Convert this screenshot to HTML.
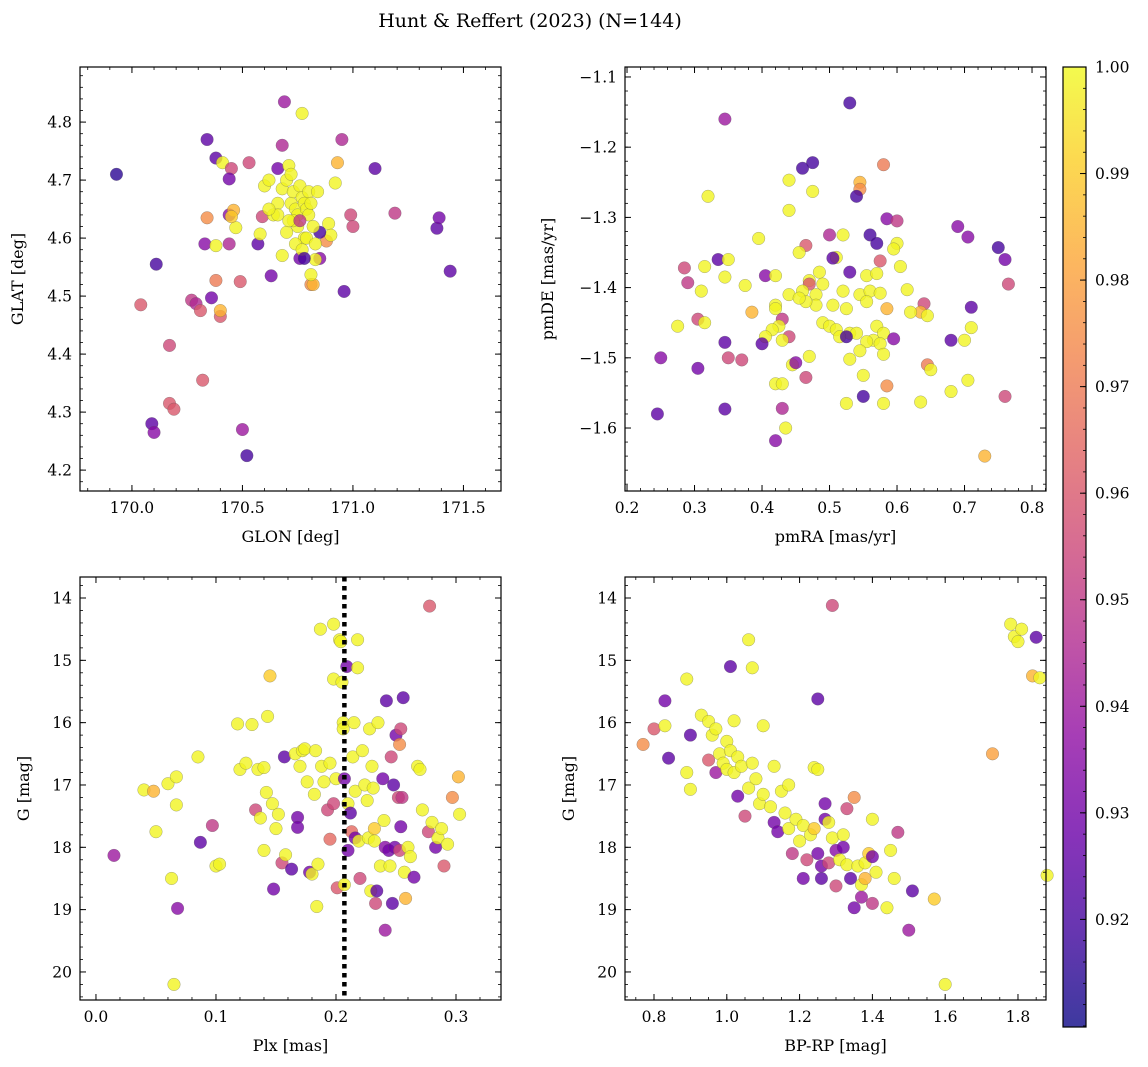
<!DOCTYPE html>
<html><head><meta charset="utf-8">
<style>
body{margin:0;background:#fff;}
svg{display:block;font-family:"DejaVu Serif","Liberation Serif",serif;}
</style></head>
<body>
<svg id="fig" width="1148" height="1067" viewBox="0 0 1148 1067" xmlns="http://www.w3.org/2000/svg">
<text x="530" y="27" text-anchor="middle" font-size="19">Hunt &amp; Reffert (2023) (N=144)</text>
</svg>
<script>
// ---- data (value triplets: x, y, membership probability) ----
const glonGlat = [[169.93,4.71,0.915],[170.11,4.555,0.92],[170.04,4.485,0.96],[170.17,4.415,0.955],[170.17,4.315,0.96],[170.19,4.305,0.96],[170.09,4.28,0.925],[170.1,4.265,0.935],[170.32,4.355,0.96],[170.27,4.493,0.95],[170.29,4.487,0.945],[170.31,4.475,0.96],[170.4,4.465,0.96],[170.4,4.475,0.985],[170.38,4.527,0.97],[170.49,4.525,0.96],[170.5,4.27,0.94],[170.52,4.225,0.92],[170.34,4.77,0.925],[170.38,4.738,0.925],[170.41,4.73,0.999],[170.45,4.72,0.955],[170.44,4.702,0.93],[170.53,4.73,0.955],[170.34,4.635,0.975],[170.33,4.59,0.935],[170.36,4.497,0.93],[170.38,4.587,0.999],[170.44,4.64,0.935],[170.44,4.59,0.945],[170.46,4.648,0.985],[170.47,4.618,0.999],[170.45,4.637,0.99],[170.57,4.59,0.925],[170.58,4.607,0.999],[170.59,4.637,0.955],[170.63,4.535,0.93],[170.66,4.72,0.93],[170.68,4.76,0.945],[170.69,4.835,0.94],[170.77,4.815,0.999],[170.95,4.77,0.945],[171.1,4.72,0.925],[170.96,4.508,0.925],[170.99,4.64,0.955],[171.0,4.62,0.955],[171.19,4.643,0.95],[171.38,4.617,0.925],[171.39,4.635,0.93],[171.44,4.543,0.925],[170.93,4.73,0.985],[170.92,4.695,0.999],[170.81,4.52,0.975],[170.82,4.52,0.985],[170.85,4.565,0.935],[170.83,4.563,0.999],[170.88,4.595,0.975],[170.89,4.625,0.999],[170.9,4.605,0.999],[170.85,4.61,0.92],[170.81,4.537,0.999],[170.76,4.565,0.93],[170.6,4.69,0.999],[170.62,4.70,0.999],[170.64,4.64,0.999],[170.66,4.66,0.999],[170.68,4.685,0.999],[170.7,4.7,0.999],[170.71,4.725,0.999],[170.72,4.71,0.999],[170.72,4.66,0.999],[170.73,4.68,0.999],[170.74,4.65,0.999],[170.75,4.64,0.999],[170.75,4.62,0.999],[170.76,4.69,0.999],[170.77,4.67,0.999],[170.78,4.66,0.999],[170.79,4.65,0.999],[170.8,4.68,0.999],[170.8,4.64,0.999],[170.81,4.66,0.999],[170.82,4.62,0.999],[170.78,4.6,0.999],[170.74,4.59,0.999],[170.7,4.61,0.999],[170.68,4.57,0.999],[170.66,4.64,0.999],[170.62,4.65,0.999],[170.73,4.63,0.999],[170.77,4.58,0.999],[170.84,4.68,0.999],[170.79,4.6,0.999],[170.71,4.63,0.999],[170.76,4.63,0.95],[170.78,4.565,0.92],[170.83,4.59,0.999]];
const pmRaDe = [[0.53,-1.137,0.92],[0.345,-1.16,0.94],[0.475,-1.222,0.92],[0.46,-1.23,0.92],[0.58,-1.225,0.97],[0.545,-1.25,0.985],[0.545,-1.26,0.975],[0.54,-1.27,0.92],[0.32,-1.27,0.999],[0.44,-1.247,0.999],[0.475,-1.263,0.999],[0.44,-1.29,0.999],[0.585,-1.302,0.935],[0.6,-1.305,0.95],[0.69,-1.313,0.935],[0.705,-1.328,0.935],[0.56,-1.325,0.92],[0.57,-1.337,0.92],[0.5,-1.325,0.945],[0.52,-1.325,0.999],[0.395,-1.33,0.999],[0.6,-1.337,0.999],[0.595,-1.345,0.999],[0.75,-1.343,0.92],[0.76,-1.36,0.93],[0.335,-1.36,0.925],[0.35,-1.36,0.999],[0.465,-1.34,0.96],[0.455,-1.35,0.999],[0.51,-1.357,0.999],[0.505,-1.358,0.925],[0.315,-1.37,0.999],[0.285,-1.372,0.955],[0.605,-1.37,0.999],[0.575,-1.362,0.96],[0.405,-1.383,0.935],[0.42,-1.383,0.999],[0.47,-1.39,0.999],[0.53,-1.378,0.925],[0.555,-1.383,0.999],[0.57,-1.38,0.999],[0.485,-1.378,0.999],[0.345,-1.385,0.999],[0.375,-1.397,0.999],[0.29,-1.393,0.95],[0.31,-1.405,0.999],[0.47,-1.395,0.96],[0.49,-1.395,0.999],[0.44,-1.41,0.999],[0.46,-1.405,0.999],[0.48,-1.41,0.999],[0.52,-1.405,0.999],[0.545,-1.41,0.999],[0.56,-1.405,0.999],[0.575,-1.408,0.999],[0.615,-1.403,0.999],[0.765,-1.395,0.955],[0.71,-1.428,0.925],[0.64,-1.423,0.955],[0.635,-1.435,0.985],[0.645,-1.44,0.999],[0.62,-1.435,0.999],[0.585,-1.43,0.985],[0.555,-1.42,0.999],[0.525,-1.43,0.999],[0.505,-1.425,0.999],[0.48,-1.425,0.999],[0.465,-1.42,0.999],[0.455,-1.415,0.999],[0.42,-1.425,0.999],[0.42,-1.43,0.999],[0.305,-1.445,0.955],[0.315,-1.45,0.999],[0.275,-1.455,0.999],[0.385,-1.435,0.985],[0.43,-1.445,0.95],[0.425,-1.455,0.999],[0.415,-1.46,0.999],[0.44,-1.47,0.955],[0.405,-1.47,0.999],[0.43,-1.475,0.999],[0.345,-1.478,0.925],[0.4,-1.48,0.925],[0.49,-1.45,0.999],[0.5,-1.455,0.999],[0.51,-1.46,0.999],[0.53,-1.465,0.999],[0.515,-1.47,0.999],[0.54,-1.465,0.999],[0.525,-1.47,0.92],[0.57,-1.455,0.999],[0.58,-1.465,0.999],[0.565,-1.475,0.999],[0.575,-1.48,0.999],[0.555,-1.477,0.999],[0.595,-1.473,0.935],[0.68,-1.475,0.925],[0.7,-1.475,0.999],[0.71,-1.457,0.999],[0.47,-1.498,0.999],[0.445,-1.51,0.999],[0.45,-1.507,0.935],[0.35,-1.5,0.955],[0.37,-1.503,0.955],[0.25,-1.5,0.935],[0.53,-1.502,0.999],[0.545,-1.49,0.999],[0.58,-1.495,0.999],[0.645,-1.51,0.97],[0.65,-1.517,0.999],[0.465,-1.528,0.955],[0.55,-1.525,0.999],[0.305,-1.515,0.93],[0.705,-1.532,0.999],[0.42,-1.537,0.999],[0.43,-1.537,0.999],[0.585,-1.54,0.975],[0.68,-1.548,0.999],[0.76,-1.555,0.955],[0.55,-1.555,0.92],[0.525,-1.565,0.999],[0.58,-1.565,0.999],[0.635,-1.563,0.999],[0.43,-1.572,0.945],[0.345,-1.573,0.925],[0.245,-1.58,0.925],[0.435,-1.6,0.999],[0.42,-1.618,0.935],[0.73,-1.64,0.985]];
const plxG = [[0.015,18.13,0.94],[0.04,17.08,0.999],[0.048,17.1,0.985],[0.05,17.75,0.999],[0.06,16.98,0.999],[0.063,18.5,0.999],[0.065,20.2,0.999],[0.067,16.87,0.999],[0.067,17.32,0.999],[0.068,18.98,0.935],[0.085,16.55,0.999],[0.087,17.92,0.925],[0.097,17.65,0.95],[0.1,18.3,0.999],[0.103,18.27,0.999],[0.118,16.02,0.999],[0.12,16.75,0.999],[0.125,16.65,0.999],[0.13,16.03,0.999],[0.133,17.4,0.955],[0.135,16.75,0.999],[0.137,17.53,0.999],[0.14,16.72,0.999],[0.14,18.05,0.999],[0.142,17.12,0.999],[0.143,15.9,0.999],[0.145,15.25,0.99],[0.147,17.3,0.999],[0.148,18.67,0.93],[0.15,17.7,0.999],[0.152,17.47,0.999],[0.155,18.25,0.955],[0.157,16.55,0.925],[0.158,18.12,0.999],[0.163,18.35,0.925],[0.166,16.5,0.999],[0.168,17.52,0.93],[0.168,17.68,0.93],[0.17,16.7,0.999],[0.172,16.45,0.999],[0.174,16.42,0.999],[0.176,16.95,0.999],[0.178,18.4,0.93],[0.18,18.43,0.999],[0.182,17.15,0.999],[0.183,16.45,0.999],[0.184,18.95,0.999],[0.185,18.27,0.999],[0.187,14.5,0.999],[0.188,16.7,0.999],[0.19,16.95,0.999],[0.193,17.4,0.955],[0.195,17.87,0.965],[0.195,16.65,0.999],[0.198,15.3,0.999],[0.198,14.42,0.999],[0.198,17.3,0.955],[0.2,16.9,0.999],[0.201,18.65,0.96],[0.203,14.67,0.999],[0.204,14.7,0.999],[0.205,15.35,0.999],[0.206,16.0,0.999],[0.206,16.1,0.999],[0.207,16.9,0.93],[0.207,18.6,0.999],[0.209,15.1,0.93],[0.21,17.3,0.999],[0.21,18.05,0.93],[0.212,17.45,0.925],[0.213,17.75,0.965],[0.214,16.55,0.999],[0.215,16.0,0.999],[0.216,17.1,0.999],[0.216,17.85,0.93],[0.218,14.67,0.999],[0.218,15.12,0.999],[0.219,17.9,0.999],[0.22,18.5,0.955],[0.222,16.45,0.999],[0.224,17.0,0.999],[0.226,17.25,0.999],[0.227,17.85,0.999],[0.228,16.1,0.999],[0.229,18.7,0.999],[0.23,16.7,0.999],[0.231,17.05,0.999],[0.232,17.7,0.99],[0.232,17.9,0.999],[0.233,18.9,0.955],[0.234,18.7,0.925],[0.235,16.0,0.999],[0.237,18.3,0.999],[0.239,16.9,0.93],[0.24,17.57,0.999],[0.241,18.0,0.935],[0.241,19.33,0.94],[0.242,15.65,0.925],[0.244,18.05,0.93],[0.245,18.3,0.999],[0.246,16.55,0.955],[0.247,18.9,0.925],[0.248,17.0,0.925],[0.249,18.0,0.93],[0.25,16.2,0.93],[0.252,17.2,0.955],[0.253,18.05,0.955],[0.253,16.35,0.975],[0.254,16.1,0.955],[0.254,17.67,0.93],[0.255,17.2,0.95],[0.256,15.6,0.925],[0.257,18.4,0.999],[0.258,18.82,0.985],[0.26,18.0,0.999],[0.262,18.15,0.999],[0.265,18.48,0.93],[0.268,16.7,0.999],[0.27,16.75,0.999],[0.272,17.4,0.999],[0.277,17.75,0.955],[0.278,14.13,0.96],[0.28,17.6,0.999],[0.283,18.0,0.93],[0.285,17.85,0.999],[0.288,17.7,0.999],[0.29,18.3,0.96],[0.293,17.95,0.999],[0.297,17.2,0.975],[0.302,16.87,0.985],[0.303,17.47,0.999]];
const bprpG = [[0.77,16.35,0.975],[0.8,16.1,0.96],[0.83,15.65,0.93],[0.83,16.05,0.999],[0.84,16.57,0.925],[0.89,15.3,0.999],[0.89,16.8,0.999],[0.9,16.2,0.925],[0.9,17.07,0.999],[0.93,15.88,0.999],[0.95,15.98,0.999],[0.95,16.6,0.96],[0.96,16.2,0.999],[0.97,16.1,0.999],[0.97,16.8,0.94],[0.98,16.5,0.999],[0.99,16.65,0.999],[1.0,16.3,0.999],[1.0,16.75,0.999],[1.01,15.1,0.925],[1.01,16.45,0.999],[1.02,15.97,0.999],[1.02,16.8,0.999],[1.03,17.18,0.93],[1.03,16.55,0.999],[1.04,16.7,0.999],[1.05,17.5,0.955],[1.06,14.67,0.999],[1.06,17.05,0.999],[1.07,15.12,0.999],[1.07,16.65,0.999],[1.08,16.9,0.999],[1.09,17.3,0.999],[1.1,16.05,0.999],[1.1,17.15,0.999],[1.12,17.35,0.999],[1.13,16.7,0.999],[1.13,17.6,0.93],[1.14,17.75,0.93],[1.15,17.1,0.999],[1.16,17.45,0.999],[1.17,17.0,0.999],[1.17,17.7,0.999],[1.18,18.1,0.95],[1.19,17.55,0.999],[1.2,17.9,0.999],[1.21,17.65,0.999],[1.21,18.5,0.93],[1.22,18.2,0.955],[1.23,17.8,0.999],[1.24,17.7,0.99],[1.24,16.72,0.999],[1.25,15.62,0.925],[1.25,16.75,0.999],[1.25,18.1,0.93],[1.26,18.3,0.93],[1.26,18.5,0.925],[1.27,17.3,0.93],[1.27,17.55,0.93],[1.28,17.6,0.999],[1.28,18.25,0.955],[1.29,14.12,0.955],[1.29,17.85,0.999],[1.3,18.62,0.955],[1.3,18.05,0.935],[1.31,18.2,0.999],[1.32,17.8,0.999],[1.32,18.0,0.93],[1.33,18.28,0.999],[1.33,17.38,0.955],[1.34,18.5,0.925],[1.35,17.2,0.975],[1.35,18.97,0.93],[1.36,18.3,0.999],[1.37,18.8,0.94],[1.37,18.6,0.999],[1.38,18.25,0.999],[1.38,18.5,0.985],[1.39,18.1,0.99],[1.4,17.55,0.999],[1.4,18.9,0.95],[1.4,18.15,0.93],[1.41,18.4,0.999],[1.44,18.97,0.999],[1.45,18.05,0.999],[1.46,18.5,0.999],[1.47,17.76,0.95],[1.5,19.33,0.94],[1.51,18.7,0.925],[1.57,18.83,0.99],[1.6,20.2,0.999],[1.73,16.5,0.98],[1.78,14.42,0.999],[1.79,14.62,0.999],[1.8,14.7,0.999],[1.81,14.5,0.999],[1.84,15.25,0.985],[1.85,14.63,0.925],[1.86,15.28,0.999],[1.88,18.45,0.999]];
const p1XTicks = [170.0,170.5,171.0,171.5];
const p1YTicks = [4.2,4.3,4.4,4.5,4.6,4.7,4.8];
const p2XTicks = [0.2,0.3,0.4,0.5,0.6,0.7,0.8];
const p2YTicks = [-1.6,-1.5,-1.4,-1.3,-1.2,-1.1];
const p3XTicks = [0.0,0.1,0.2,0.3];
const gTicks = [14,15,16,17,18,19,20];
const p4XTicks = [0.8,1.0,1.2,1.4,1.6,1.8];
const cbTicks = [0.92,0.93,0.94,0.95,0.96,0.97,0.98,0.99,1.00];
const plxCut = [0.207];
const pMin = 0.9099, pMax = 1.0;

const NS="http://www.w3.org/2000/svg";
const svg=document.getElementById('fig');
const plasma=["#0d0887","#41049d","#6a00a8","#8f0da4","#b12a90","#cc4778","#e16462","#f2844b","#fca636","#fcce25","#f0f921"];
function hex(h){return [parseInt(h.slice(1,3),16),parseInt(h.slice(3,5),16),parseInt(h.slice(5,7),16)];}
function cmap(v){let t=Math.max(0,Math.min(1,(v-pMin)/(pMax-pMin)))*10;let i=Math.min(9,Math.floor(t));let f=t-i;let a=hex(plasma[i]),b=hex(plasma[i+1]);return `rgb(${a.map((c,k)=>Math.round(c+(b[k]-c)*f)).join(',')})`;}
function mk(tag,attrs,parent){const e=document.createElementNS(NS,tag);for(const k in attrs)e.setAttribute(k,attrs[k]);(parent||svg).appendChild(e);return e;}

function panel(o){
  const g=mk('g',{});
  
  
  const sx=v=>o.x0+(v-o.xmin)/(o.xmax-o.xmin)*(o.x1-o.x0);
  const sy=o.inv? v=>o.y0+(v-o.ymin)/(o.ymax-o.ymin)*(o.y1-o.y0) : v=>o.y1-(v-o.ymin)/(o.ymax-o.ymin)*(o.y1-o.y0);
  const pts=mk('g',{},g);
  
  
  o.data.forEach(d=>{
    const c=mk('circle',{cx:sx(d[0]),cy:sy(d[1]),r:6.3,fill:cmap(d[2]),'fill-opacity':0.8,stroke:'#555','stroke-opacity':0.5,'stroke-width':0.5},pts);
    
    
  });
  if(o.vline){o.vline.forEach(v=>{const l=mk('line',{x1:sx(v),x2:sx(v),y1:o.y0,y2:o.y1,stroke:'#000','stroke-width':4.5,'stroke-dasharray':'4.5,4.5'},g);
    
    });}
  const fr=mk('rect',{x:o.x0,y:o.y0,width:o.x1-o.x0,height:o.y1-o.y0,fill:'none',stroke:'#000','stroke-width':1.2},g);
  
  
  const xstep=o.xt[1]-o.xt[0], ystep=o.yt[1]-o.yt[0];
  const xminor=xstep/(o.xminN||5), yminor=ystep/(o.yminN||5);
  for(let v=Math.ceil(o.xmin/xminor)*xminor; v<=o.xmax; v+=xminor){const px=sx(v);
    mk('line',{x1:px,x2:px,y1:o.y1,y2:o.y1-3,stroke:'#000','stroke-width':0.8},g);
    mk('line',{x1:px,x2:px,y1:o.y0,y2:o.y0+3,stroke:'#000','stroke-width':0.8},g);}
  for(let v=Math.ceil(o.ymin/yminor)*yminor; v<=o.ymax; v+=yminor){const py=sy(v);
    mk('line',{x1:o.x0,x2:o.x0+3,y1:py,y2:py,stroke:'#000','stroke-width':0.8},g);
    mk('line',{x1:o.x1,x2:o.x1-3,y1:py,y2:py,stroke:'#000','stroke-width':0.8},g);}
  o.xt.forEach(v=>{const px=sx(v);
    mk('line',{x1:px,x2:px,y1:o.y1,y2:o.y1-6,stroke:'#000','stroke-width':1},g);
    mk('line',{x1:px,x2:px,y1:o.y0,y2:o.y0+6,stroke:'#000','stroke-width':1},g);
    const t=mk('text',{x:px,y:o.y1+22,'text-anchor':'middle','font-size':15.5},g);t.textContent=v.toFixed(o.xd);
    
    });
  o.yt.forEach(v=>{const py=sy(v);
    mk('line',{x1:o.x0,x2:o.x0+6,y1:py,y2:py,stroke:'#000','stroke-width':1},g);
    mk('line',{x1:o.x1,x2:o.x1-6,y1:py,y2:py,stroke:'#000','stroke-width':1},g);
    const t=mk('text',{x:o.x0-8,y:py+5.5,'text-anchor':'end','font-size':15.5},g);t.textContent=(v<0?'\u2212':'')+Math.abs(v).toFixed(o.yd);
    
    });
  const xl=mk('text',{x:(o.x0+o.x1)/2,y:o.y1+51,'text-anchor':'middle','font-size':16},g);xl.textContent=o.xlab;
  
  
  const yl=mk('text',{x:0,y:0,'text-anchor':'middle','font-size':16,transform:`translate(${o.ylx},${(o.y0+o.y1)/2}) rotate(-90)`},g);yl.textContent=o.ylab;
  
  
}

panel({name:'glon-glat-panel',data:glonGlat,x0:80,x1:501,y0:67,y1:491,xmin:169.765,xmax:171.67,ymin:4.164,ymax:4.895,xt:p1XTicks,yt:p1YTicks,xd:1,yd:1,xlab:'GLON [deg]',ylab:'GLAT [deg]',ylx:23});
panel({name:'proper-motion-panel',data:pmRaDe,x0:625,x1:1046,y0:67,y1:491,xmin:0.197,xmax:0.8207,ymin:-1.6897,ymax:-1.0858,xt:p2XTicks,yt:p2YTicks,xd:1,yd:1,xlab:'pmRA [mas/yr]',ylab:'pmDE [mas/yr]',ylx:553});
panel({name:'parallax-mag-panel',data:plxG,x0:80,x1:501,y0:577,y1:1000,xmin:-0.0133,xmax:0.3375,ymin:13.663,ymax:20.45,inv:true,xt:p3XTicks,yt:gTicks,xd:1,yd:0,xlab:'Plx [mas]',ylab:'G [mag]',ylx:29,vline:plxCut});
panel({name:'color-mag-panel',data:bprpG,x0:625,x1:1046,y0:577,y1:1000,xmin:0.7203,xmax:1.877,ymin:13.663,ymax:20.45,inv:true,xt:p4XTicks,yt:gTicks,xd:1,yd:0,xminN:4,xlab:'BP-RP [mag]',ylab:'G [mag]',ylx:574});

const cb=mk('g',{});


const defs=mk('defs',{},cb);
const lg=mk('linearGradient',{id:'pl',x1:0,y1:1,x2:0,y2:0},defs);
plasma.forEach((c,i)=>mk('stop',{offset:i/10,'stop-color':c},lg));
const cbx0=1063,cbx1=1086,cby0=67,cby1=1027;
mk('rect',{x:cbx0,y:cby0,width:cbx1-cbx0,height:cby1-cby0,fill:'url(#pl)','fill-opacity':0.8},cb);
mk('rect',{x:cbx0,y:cby0,width:cbx1-cbx0,height:cby1-cby0,fill:'none',stroke:'#000','stroke-width':1.2},cb);
const cy=v=>cby1-(v-pMin)/(pMax-pMin)*(cby1-cby0);
for(let v=0.91;v<=1.0001;v+=0.002){if(v<pMin)continue;const py=cy(v);
  mk('line',{x1:cbx1,x2:cbx1-3,y1:py,y2:py,stroke:'#000','stroke-width':0.8},cb);}
cbTicks.forEach(v=>{const py=cy(v);
  mk('line',{x1:cbx1,x2:cbx1-6,y1:py,y2:py,stroke:'#000','stroke-width':1},cb);
  const t=mk('text',{x:cbx1+9,y:py+5.5,'font-size':15.5},cb);t.textContent=v.toFixed(2);
  
  });
</script>
</body></html>
